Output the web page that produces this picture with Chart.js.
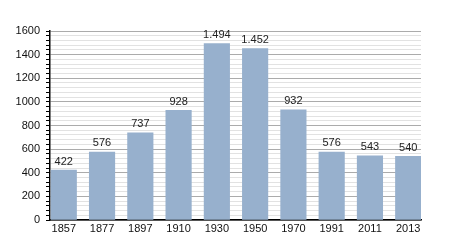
<!DOCTYPE html>
<html>
<head>
<meta charset="utf-8">
<script src="https://cdn.jsdelivr.net/npm/chart.js@4/dist/chart.umd.min.js"></script>
<style>
  html, body { margin: 0; padding: 0; background: #fff; }
  #wrap { width: 450px; height: 250px; }
</style>
</head>
<body>
<div id="wrap"><canvas id="myChart" width="450" height="250"></canvas></div>
<script>
const years = ["1857", "1877", "1897", "1910", "1930", "1950", "1970", "1991", "2011", "2013"]
const population = [422, 576, 737, 928, 1494, 1452, 932, 576, 543, 540]
const yMax = 1600

const font = { family: "'Liberation Sans', Arial, sans-serif", size: 11 }

function formatNum(v) {
    return String(v).replace(/\B(?=(\d{3})+(?!\d))/g, ".")
}

const valueLabels = {
    id: "valueLabels",
    afterDatasetsDraw(chart) {
        const ctx = chart.ctx
        const meta = chart.getDatasetMeta(0)
        ctx.save()
        ctx.font = "11px " + font.family
        ctx.fillStyle = "#222"
        ctx.textAlign = "center"
        ctx.textBaseline = "bottom"
        meta.data.forEach((bar, i) => {
            ctx.fillText(formatNum(population[i]), bar.x, bar.y - 3)
        })
        ctx.restore()
    }
}

const ctx = document.getElementById("myChart").getContext("2d")

new Chart(ctx, {
    type: "bar",
    data: {
        datasets: [
            {
                data: population.map((v, i) => ({ x: i, y: v })),
                backgroundColor: "#97b0cd",
                borderWidth: 0,
                barThickness: 25.5
            }
        ]
    },
    options: {
        responsive: false,
        animation: false,
        events: [],
        layout: { padding: { top: 31, right: 29, bottom: 0, left: 0 } },
        plugins: {
            legend: { display: false },
            tooltip: { enabled: false }
        },
        scales: {
            x: {
                type: "linear",
                min: -0.36,
                max: 9.334,
                bounds: "data",
                offset: false,
                afterBuildTicks: s => { s.ticks = years.map((_, i) => ({ value: i })) },
                ticks: {
                    autoSkip: false,
                    maxRotation: 0,
                    color: "#111",
                    font: font,
                    padding: 2,
                    callback: v => years[v] ?? ""
                },
                grid: { display: false, drawTicks: false, offset: false },
                border: { display: true, color: "#000", width: 1.5 },
                afterFit: s => { s.height = 30 }
            },
            y: {
                min: 0,
                max: yMax,
                ticks: {
                    stepSize: 40,
                    autoSkip: false,
                    color: "#111",
                    font: font,
                    padding: 6,
                    callback: v => v % 200 === 0 ? v : ""
                },
                grid: {
                    color: c => c.tick && c.tick.value % 200 === 0 ? "#ababab" : "#e2e2e2",
                    tickColor: "#000",
                    tickLength: 4,
                    drawTicks: true
                },
                border: { display: true, color: "#000", width: 1.5 },
                afterFit: s => { s.width = 50 }
            }
        }
    },
    plugins: [valueLabels]
})
</script>
</body>
</html>
